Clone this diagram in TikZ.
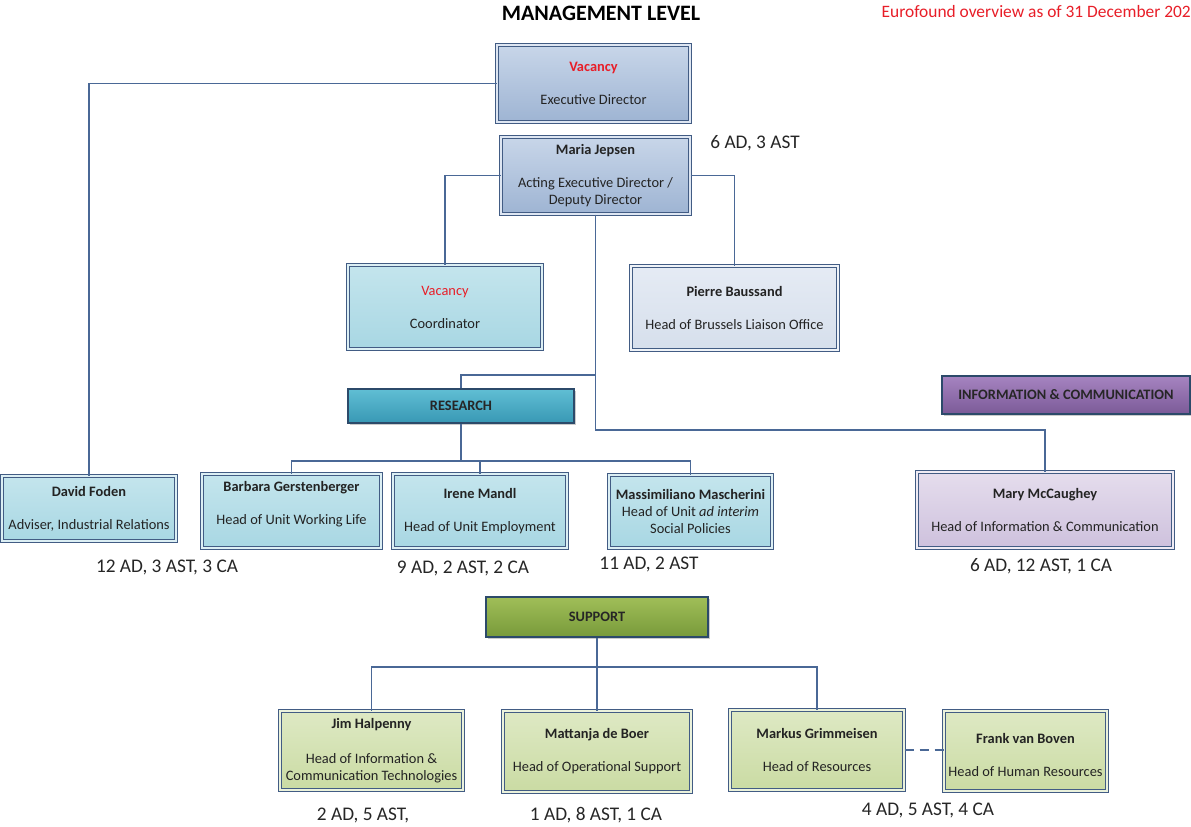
\documentclass[tikz,border=0pt]{standalone}
\usepackage{fontspec}
\setmainfont{Carlito}
\usetikzlibrary{shadows}
\definecolor{connc}{RGB}{74,104,150}
\definecolor{bordc}{RGB}{66,92,132}
\definecolor{txtc}{RGB}{35,35,35}
\definecolor{vacred}{RGB}{232,30,40}
\definecolor{exectop}{RGB}{200,214,233}
\definecolor{execbot}{RGB}{158,180,211}
\definecolor{cyantop}{RGB}{196,229,237}
\definecolor{cyanbot}{RGB}{168,215,227}
\definecolor{paletop}{RGB}{229,235,244}
\definecolor{palebot}{RGB}{214,223,236}
\definecolor{purptop}{RGB}{229,221,237}
\definecolor{purpbot}{RGB}{206,193,221}
\definecolor{greentop}{RGB}{222,233,196}
\definecolor{greenbot}{RGB}{202,219,163}
\definecolor{restop}{RGB}{96,190,212}
\definecolor{resbot}{RGB}{56,152,180}
\definecolor{infotop}{RGB}{166,132,192}
\definecolor{infobot}{RGB}{123,90,152}
\definecolor{suptop}{RGB}{160,190,88}
\definecolor{supbot}{RGB}{120,154,58}
\definecolor{headbord}{RGB}{44,74,106}
\begin{document}
\begin{tikzpicture}[x=1pt,y=-1pt,
  conn/.style={draw=connc, line width=1.5pt},
  shad/.style={drop shadow={shadow xshift=2pt, shadow yshift=-2pt, fill=black!45, opacity=0.45}},
  box/.style={rectangle, shad, draw=bordc, line width=1pt, double distance=1.4pt,
    align=center, text=txtc, inner sep=1pt,
    font=\fontsize{14.4}{17}\selectfont},
  execbox/.style={box, top color=exectop, bottom color=execbot, double=exectop!60!white},
  cyanbox/.style={box, top color=cyantop, bottom color=cyanbot, double=cyantop!60!white},
  palebox/.style={box, top color=paletop, bottom color=palebot, double=paletop!60!white},
  purpbox/.style={box, top color=purptop, bottom color=purpbot, double=purptop!60!white},
  greenbox/.style={box, top color=greentop, bottom color=greenbot, double=greentop!60!white},
  headbox/.style={rectangle, shad, draw=headbord, line width=1.8pt, text=black!85,
    font=\fontsize{14.4}{17}\selectfont\bfseries},
  staff/.style={font=\fontsize{19.3}{22}\selectfont, text=black!85}]
\useasboundingbox[fill=white] (0,0) rectangle (1191,827);

% titles
\node[font=\fontsize{22}{26}\selectfont\bfseries, text=black] (title) at (601,13) {MANAGEMENT LEVEL};
\node[font=\fontsize{17.4}{20}\selectfont, text=vacred, anchor=east, inner sep=0pt] (eurof) at (1191,12) {Eurofound overview as of 31 December 202};

% management
\node[execbox, minimum width=193pt, minimum height=77pt] (exec) at (593.5,83.5)
  {\textcolor{vacred}{\bfseries Vacancy}\\[16pt]Executive Director};
\node[execbox, minimum width=189pt, minimum height=77pt] (maria) at (595.5,175.5)
  {\textbf{Maria Jepsen}\\[16pt]Acting Executive Director /\\Deputy Director};
\node[staff] (stmaria) at (755,143) {6 AD, 3 AST};
\node[cyanbox, minimum width=194pt, minimum height=84pt] (coord) at (445,307)
  {\textcolor{vacred}{Vacancy}\\[16pt]Coordinator};
\node[palebox, minimum width=207pt, minimum height=84pt] (pierre) at (734.5,308)
  {\mbox{}\\[-7pt]\textbf{Pierre Baussand}\\[16pt]Head of Brussels Liaison Office};

% headers
\node[headbox, top color=restop, bottom color=resbot, minimum width=226pt, minimum height=34pt] (research) at (461,406) {RESEARCH};
\node[headbox, top color=infotop, bottom color=infobot, minimum width=248pt, minimum height=38pt] (infocom) at (1066,395) {INFORMATION \& COMMUNICATION};
\node[headbox, top color=suptop, bottom color=supbot, minimum width=222pt, minimum height=40pt] (support) at (597,617) {SUPPORT};

% research row
\node[cyanbox, minimum width=174pt, minimum height=65pt] (david) at (89,508.5)
  {\textbf{David Foden}\\[16pt]Adviser, Industrial Relations};
\node[cyanbox, minimum width=179pt, minimum height=74pt] (barbara) at (291.5,511)
  {\textbf{Barbara Gerstenberger}\\[16pt]Head of Unit Working Life\\[-1pt]\mbox{}};
\node[cyanbox, minimum width=174pt, minimum height=74pt] (irene) at (480,511)
  {\textbf{Irene Mandl}\\[16pt]Head of Unit Employment};
\node[cyanbox, minimum width=163pt, minimum height=73pt] (massi) at (690.5,511.5)
  {\textbf{Massimiliano Mascherini}\\Head of Unit \textit{ad interim}\\Social Policies};
\node[purpbox, minimum width=256pt, minimum height=76pt] (mary) at (1045,510)
  {\textbf{Mary McCaughey}\\[16pt]Head of Information \& Communication};

\node[staff] (stdavid) at (167,567) {12 AD, 3 AST, 3 CA};
\node[staff] (stirene) at (463,568) {9 AD, 2 AST, 2 CA};
\node[staff] (stmassi) at (649,564) {11 AD, 2 AST};
\node[staff] (stmary) at (1041,566) {6 AD, 12 AST, 1 CA};

% support row
\node[greenbox, minimum width=183pt, minimum height=79pt] (jim) at (371.5,750.5)
  {\textbf{Jim Halpenny}\\[18pt]Head of Information \&\\Communication Technologies};
\node[greenbox, minimum width=188pt, minimum height=81pt] (mattanja) at (597,751.5)
  {\textbf{Mattanja de Boer}\\[16pt]Head of Operational Support};
\node[greenbox, minimum width=174pt, minimum height=80pt] (markus) at (817,750)
  {\textbf{Markus Grimmeisen}\\[16pt]Head of Resources};
\node[greenbox, minimum width=163pt, minimum height=80pt] (frank) at (1025.5,751)
  {\mbox{}\\[1pt]\textbf{Frank van Boven}\\[16pt]Head of Human Resources};

\node[staff] (stjim) at (363,815) {2 AD, 5 AST,};
\node[staff] (stmatt) at (596,815) {1 AD, 8 AST, 1 CA};
\node[staff] (stmarkus) at (928,810) {4 AD, 5 AST, 4 CA};

% connectors
\coordinate (j1) at (595.5,375);
\coordinate (j2) at (595.5,430);
\coordinate (r1) at (461,461);
\coordinate (s1) at (597,667);

\draw[conn] (exec.west) -| (david.north);
\draw[conn] (maria.west) -| (coord.north);
\draw[conn] (maria.east) -| (pierre.north);
\draw[conn] (maria.south) -- (j1) -- (j2) -| (mary.north);
\draw[conn] (j1) -| (research.north);
\draw[conn] (research.south) -- (r1);
\draw[conn] (r1) -| (barbara.north);
\draw[conn] (r1) -| (irene.north);
\draw[conn] (r1) -| (massi.north);
\draw[conn] (support.south) -- (mattanja.north);
\draw[conn] (s1) -| (jim.north);
\draw[conn] (s1) -| (markus.north);
\draw[conn, dash pattern=on 9pt off 6pt] (markus.east) -- (markus.east -| frank.west);
\end{tikzpicture}
\end{document}
